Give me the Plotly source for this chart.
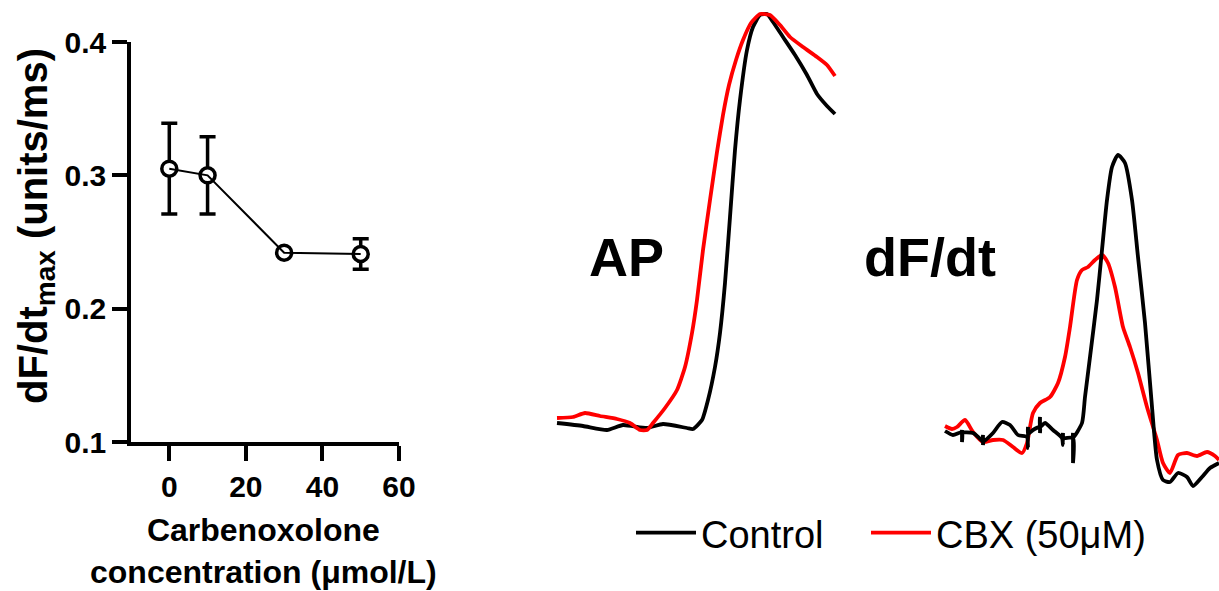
import plotly.graph_objects as go

W, H = 1219, 591
FONT = "Liberation Sans, Arial, sans-serif"
BLACK = "#000000"
RED = "#ff0000"

# ---- left panel: dF/dt max vs carbenoxolone concentration ----
conc = [0, 10, 30, 50]
dfdt_max = [0.305, 0.300, 0.242, 0.241]
dfdt_err = [0.034, 0.029, 0.0, 0.0115]
x_ticks = [0, 20, 40, 60]
y_ticks = [0.1, 0.2, 0.3, 0.4]
y_ticktext = ["0.1", "0.2", "0.3", "0.4"]

# ---- AP traces (time ms, amplitude a.u.) ----
ap_ctrl_t = [0.0, 2.6, 5.0, 6.6, 9.0, 10.6, 13.0, 13.6, 14.5, 15.1, 15.8, 16.3, 16.8, 17.3,
             17.8, 18.3, 19.0, 19.6, 20.3, 21.0, 21.6, 22.6, 23.8, 25.0, 26.0, 27.0, 27.8]
ap_ctrl_v = [17, 14, 10, 15, 12, 16, 12, 11, 20, 40, 73, 107, 157, 223,
             290, 340, 390, 413, 425, 426, 418, 403, 385, 365, 346, 334, 326]
ap_cbx_t = [0.0, 1.6, 2.8, 4.3, 6.0, 7.3, 8.3, 9.0, 9.6, 10.8, 12.0, 12.8, 13.5, 14.0, 14.6,
            15.3, 16.0, 16.6, 17.2, 17.9, 18.6, 19.4, 20.3, 21.3, 22.3, 23.3, 24.6, 26.0, 27.0, 27.8]
ap_cbx_v = [22, 23, 27, 24, 21, 17, 10, 10, 17, 32, 50, 73, 107, 140, 190,
            240, 288, 325, 355, 380, 400, 417, 426, 425, 415, 403, 393, 383, 375, 364]

# ---- dF/dt traces (time ms, amplitude a.u.) ----
d_ctrl_t = [0.0, 0.8, 1.7, 1.7, 1.7, 1.7, 2.8, 3.8, 3.8, 3.8, 3.8, 4.8, 5.7, 6.5, 7.3, 8.2,
            8.3, 8.3, 8.3, 8.8, 9.5, 9.5, 9.5, 9.5, 10.0, 10.8, 11.7, 11.8, 11.8, 11.8,
            12.8, 12.8, 12.8, 12.8, 13.7, 14.0, 14.5, 15.2, 15.7, 16.2, 16.7, 17.3, 18.0,
            18.7, 19.3, 20.0, 20.7, 21.2, 21.8, 22.5, 23.3, 24.2, 24.8, 25.7, 26.5, 27.4]
d_ctrl_v = [69, 65, 68, 58, 70, 68, 67, 58, 55, 65, 58, 67, 78, 75, 65, 63,
            52, 73, 66, 70, 73, 67, 83, 73, 77, 70, 62, 55, 67, 62,
            62, 37, 67, 62, 77, 103, 143, 200, 250, 300, 333, 345, 337,
            300, 243, 177, 93, 40, 20, 18, 27, 23, 14, 23, 32, 37]
d_cbx_t = [0.0, 0.7, 1.2, 2.0, 2.8, 3.8, 4.8, 5.8, 6.8, 7.7, 8.2, 8.8, 9.5, 10.5, 11.3, 12.0,
           12.5, 13.2, 13.7, 14.3, 15.0, 15.7, 16.3, 17.0, 17.8, 18.5, 19.3, 20.2, 21.2,
           21.8, 22.5, 23.3, 24.2, 25.2, 26.2, 27.0, 27.4]
d_cbx_v = [74, 71, 73, 80, 68, 58, 60, 60, 53, 47, 57, 87, 97, 103, 117, 143,
           173, 220, 230, 233, 240, 245, 237, 213, 173, 153, 127, 93, 60,
           37, 27, 45, 47, 44, 48, 44, 40]

fig = go.Figure()

# left panel: markers with error bars, then the connecting line on top
fig.add_trace(go.Scatter(
    x=conc, y=dfdt_max, mode="markers", showlegend=False,
    marker=dict(symbol="circle", size=15, color="white", line=dict(color=BLACK, width=3.5)),
    error_y=dict(type="data", array=dfdt_err, visible=True, color=BLACK, thickness=3.5, width=8),
    xaxis="x", yaxis="y"))
fig.add_trace(go.Scatter(
    x=conc, y=dfdt_max, mode="lines", showlegend=False,
    line=dict(color=BLACK, width=2), xaxis="x", yaxis="y"))

SMOOTH = 0.5
LW = 3.8
# AP traces
fig.add_trace(go.Scatter(x=ap_ctrl_t, y=ap_ctrl_v, mode="lines", name="Control", legend="legend",
                         line=dict(color=BLACK, width=LW, shape="spline", smoothing=SMOOTH),
                         xaxis="x2", yaxis="y2"))
fig.add_trace(go.Scatter(x=ap_cbx_t, y=ap_cbx_v, mode="lines", name="CBX (50μM)", legend="legend2",
                         line=dict(color=RED, width=LW, shape="spline", smoothing=SMOOTH),
                         xaxis="x2", yaxis="y2"))
# dF/dt traces
fig.add_trace(go.Scatter(x=d_cbx_t, y=d_cbx_v, mode="lines", showlegend=False,
                         line=dict(color=RED, width=LW, shape="spline", smoothing=0.6),
                         xaxis="x3", yaxis="y3"))
fig.add_trace(go.Scatter(x=d_ctrl_t, y=d_ctrl_v, mode="lines", showlegend=False,
                         line=dict(color=BLACK, width=LW, shape="spline", smoothing=0.6),
                         xaxis="x3", yaxis="y3"))

bold_tick = dict(family=FONT, size=30, color=BLACK, weight="bold")
axis_common = dict(showline=True, linecolor=BLACK, linewidth=3.5, ticks="outside",
                   ticklen=15, tickwidth=3.5, tickcolor=BLACK, showgrid=False,
                   zeroline=False, tickfont=bold_tick, automargin=False)

hidden = dict(visible=False, showgrid=False, zeroline=False, fixedrange=True)

legend_common = dict(orientation="h", xanchor="left", y=1 - 533 / H, yanchor="middle",
                     font=dict(family=FONT, size=38, color=BLACK), itemwidth=60,
                     bgcolor="rgba(0,0,0,0)", borderwidth=0)

fig.update_layout(
    width=W, height=H,
    margin=dict(l=0, r=0, t=0, b=0),
    paper_bgcolor="white", plot_bgcolor="white",
    font=dict(family=FONT, color=BLACK),
    xaxis=dict(domain=[131 / W, 399 / W], range=[-10, 60], tickvals=x_ticks,
               anchor="y", **axis_common),
    yaxis=dict(domain=[1 - 442 / H, 1 - 42 / H], range=[0.1, 0.4], tickvals=y_ticks,
               ticktext=y_ticktext, anchor="x", **axis_common),
    xaxis2=dict(domain=[555 / W, 840 / W], range=[-0.2, 28.3], anchor="y2", **hidden),
    yaxis2=dict(domain=[1 - 445 / H, 1 - 5 / H], range=[-5, 435], anchor="x2", **hidden),
    xaxis3=dict(domain=[943 / W, 1.0], range=[-0.2, 27.4], anchor="y3", **hidden),
    yaxis3=dict(domain=[1 - 495 / H, 1 - 150 / H], range=[5, 350], anchor="x3", **hidden),
    legend=dict(x=631 / W, **legend_common),
    legend2=dict(x=866 / W, **legend_common),
    annotations=[
        dict(text="dF/dt<sub>max</sub> (units/ms)", textangle=-90, xref="paper", yref="paper",
             x=36 / W, y=1 - 226 / H, xanchor="center", yanchor="middle", showarrow=False,
             font=dict(family=FONT, size=40, color=BLACK, weight="bold")),
        dict(text="Carbenoxolone<br>concentration (μmol/L)", xref="paper", yref="paper",
             x=263 / W, y=1 - 510 / H, xanchor="center", yanchor="top", showarrow=False,
             font=dict(family=FONT, size=32, color=BLACK, weight="bold")),
        dict(text="AP", xref="paper", yref="paper", x=627 / W, y=1 - 257 / H,
             xanchor="center", yanchor="middle", showarrow=False,
             font=dict(family=FONT, size=54, color=BLACK, weight="bold")),
        dict(text="dF/dt", xref="paper", yref="paper", x=930 / W, y=1 - 257 / H,
             xanchor="center", yanchor="middle", showarrow=False,
             font=dict(family=FONT, size=54, color=BLACK, weight="bold")),
    ],
)

fig.write_html("out.html")
